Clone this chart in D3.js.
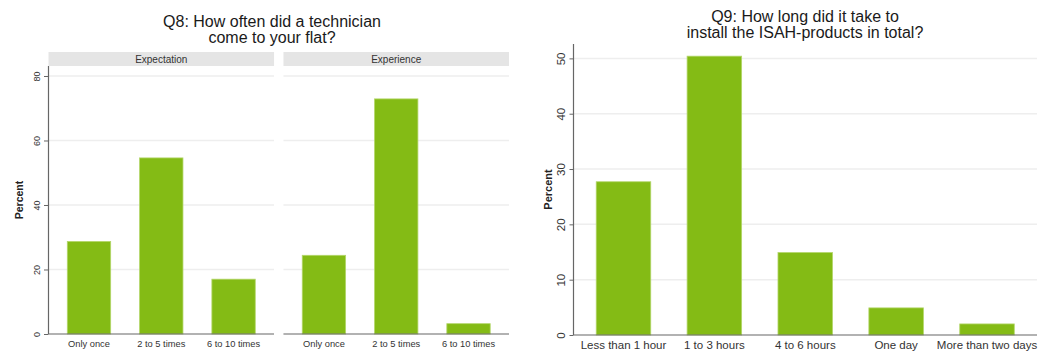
<!DOCTYPE html>
<html>
<head>
<meta charset="utf-8">
<script src="https://cdn.jsdelivr.net/npm/d3@7"></script>
<style>
  html, body { margin: 0; padding: 0; background: #fff; }
  svg { display: block; font-family: "Liberation Sans", Arial, sans-serif; }
</style>
</head>
<body>
<svg id="chart" width="1050" height="351"></svg>
<script>
// Q8: technician visits, faceted by expectation vs. experience
const q8Title = ["Q8: How often did a technician", "come to your flat?"];
const q8Categories = ["Only once", "2 to 5 times", "6 to 10 times"];
const q8Panels = ["Expectation", "Experience"];
const q8Expectation = [28.7, 54.6, 17.0];
const q8Experience = [24.4, 72.9, 3.2];
const q8Ticks = [0, 20, 40, 60, 80];

// Q9: total installation time
const q9Title = ["Q9: How long did it take to", "install the ISAH-products in total?"];
const q9Categories = ["Less than 1 hour", "1 to 3 hours", "4 to 6 hours", "One day", "More than two days"];
const q9Values = [27.7, 50.4, 14.9, 4.9, 2.0];
const q9Ticks = [0, 10, 20, 30, 40, 50];

const BAR = "#84bb15";
const BAR_EDGE = "#b3d66a";
const GRID = "#eeeeee";
const AXIS = "#666666";
const TEXT = "#333333";

const svg = d3.select("#chart");

function drawTitle(lines, cx, y0, dy) {
  svg.append("text")
    .attr("x", cx).attr("y", y0)
    .attr("text-anchor", "middle")
    .attr("font-size", 16).attr("fill", "#1a1a1a")
    .selectAll("tspan").data(lines).join("tspan")
    .attr("x", cx).attr("dy", (d, i) => i === 0 ? 0 : dy)
    .text(d => d);
}

function drawPanel(g, cats, vals, x, y, opts) {
  const [x0, x1] = x.range();
  // gridlines
  g.append("g").selectAll("line").data(opts.ticks.filter(t => t > 0)).join("line")
    .attr("x1", x0).attr("x2", x1)
    .attr("y1", d => y(d)).attr("y2", d => y(d))
    .attr("stroke", GRID).attr("stroke-width", 1.5);
  // bars
  g.append("g").selectAll("rect").data(vals).join("rect")
    .attr("x", (d, i) => x(cats[i]))
    .attr("width", x.bandwidth())
    .attr("y", d => y(d))
    .attr("height", d => y(0) - y(d))
    .attr("fill", BAR)
    .attr("stroke", BAR_EDGE).attr("stroke-width", 0.8);
  // x axis
  const xa = g.append("g")
    .attr("transform", `translate(0,${y(0)})`)
    .call(d3.axisBottom(x).tickSize(0).tickPadding(opts.xPad));
  xa.select(".domain").attr("stroke", AXIS).attr("stroke-width", 1.2).attr("d", `M${x0},0H${x1}`);
  xa.selectAll("text").attr("font-size", opts.xFont).attr("fill", TEXT).attr("font-family", null);
}

function drawYAxis(g, y, x0, opts) {
  const ya = g.append("g")
    .attr("transform", `translate(${x0},0)`)
    .call(d3.axisLeft(y).tickValues(opts.ticks).tickSize(opts.tickLen).tickPadding(2));
  ya.select(".domain").attr("stroke", AXIS).attr("stroke-width", 1.2)
    .attr("d", `M0,${y.range()[0]}V${y.range()[1]}`);
  ya.selectAll(".tick line").attr("stroke", AXIS);
  ya.selectAll(".tick text")
    .attr("font-size", opts.font).attr("fill", TEXT).attr("font-family", null)
    .attr("text-anchor", "middle")
    .attr("x", null).attr("dy", null)
    .attr("transform", `translate(${opts.labelX - x0},0) rotate(-90)`)
    .attr("dominant-baseline", "central");
  g.append("text")
    .attr("transform", `translate(${opts.titleX},${(y.range()[0] + y.range()[1]) / 2}) rotate(-90)`)
    .attr("text-anchor", "middle").attr("dominant-baseline", "central")
    .attr("font-size", opts.titleFont).attr("font-weight", "bold").attr("fill", "#222")
    .text("Percent");
}

// ---- Q8 (faceted) ----
drawTitle(q8Title, 272, 27, 15.5);
const q8Y = d3.scaleLinear().domain([0, 83.1]).range([334, 66]);
const q8PanelX = d3.scaleBand().domain(q8Panels).range([48.5, 509]).paddingInner(0.04);
const q8Data = { "Expectation": q8Expectation, "Experience": q8Experience };

q8Panels.forEach(p => {
  const px0 = q8PanelX(p), px1 = px0 + q8PanelX.bandwidth();
  // facet strip
  svg.append("rect").attr("x", px0).attr("y", 52).attr("width", px1 - px0).attr("height", 14)
    .attr("fill", "#e5e5e5");
  svg.append("text").attr("x", (px0 + px1) / 2).attr("y", 59)
    .attr("text-anchor", "middle").attr("dominant-baseline", "central")
    .attr("font-size", 10).attr("fill", TEXT).text(p);
  const x = d3.scaleBand().domain(q8Categories).range([px0, px1])
    .paddingInner(0.4).paddingOuter(0.26);
  drawPanel(svg.append("g"), q8Categories, q8Data[p], x, q8Y,
    { ticks: q8Ticks, xFont: 9.3, xPad: 6 });
});
drawYAxis(svg.append("g"), q8Y, 48.5,
  { ticks: q8Ticks, tickLen: 4.5, font: 9, labelX: 37, titleX: 19, titleFont: 10.5 });

// ---- Q9 ----
drawTitle(q9Title, 805, 22, 15.5);
const q9Y = d3.scaleLinear().domain([0, 52.6]).range([335, 44]);
const q9X = d3.scaleBand().domain(q9Categories).range([573.5, 1037])
  .paddingInner(0.4).paddingOuter(0.25);
drawPanel(svg.append("g"), q9Categories, q9Values, q9X, q9Y,
  { ticks: q9Ticks, xFont: 11.5, xPad: 6 });
drawYAxis(svg.append("g"), q9Y, 573.5,
  { ticks: q9Ticks, tickLen: 4, font: 11.5, labelX: 561, titleX: 548, titleFont: 11 });
</script>
</body>
</html>
